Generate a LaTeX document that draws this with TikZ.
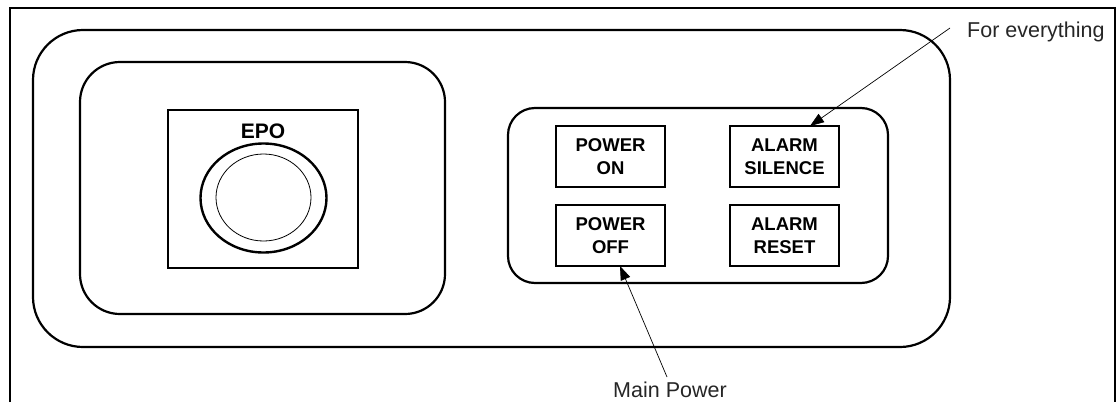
\documentclass[tikz,border=0pt]{standalone}
\usepackage{fontspec}
\setmainfont{Liberation Sans}
\usetikzlibrary{arrows.meta}
\tikzset{
  panel/.style={draw=black, line width=2.2pt},
  btn/.style={draw=black, line width=2pt, minimum width=109pt, minimum height=61pt,
    inner sep=0pt, align=center, font=\bfseries\fontsize{18.5}{23}\selectfont},
  lbl/.style={anchor=base west, inner sep=0pt, font=\fontsize{21.5}{24}\selectfont, text=black!85},
  arr/.style={draw=black, line width=0.7pt, -{Triangle[length=14pt,width=10pt]}}
}
\begin{document}
\begin{tikzpicture}[x=1pt,y=-1pt]
\useasboundingbox (0,0) rectangle (1117,402);
% frame (open at bottom)
\draw[line width=2pt] (10,402) -- (10,8) -- (1115,8) -- (1115,402);
% outer rounded panel
\draw[panel, rounded corners=50pt] (33,30) rectangle (950,347);
% left inner panel
\draw[panel, rounded corners=40pt] (80,62) rectangle (445,314);
% EPO box
\node[draw=black, line width=2pt, minimum width=190pt, minimum height=158pt, inner sep=0pt] (epobox) at (262.5,188.5) {};
\node[anchor=base, inner sep=0pt, font=\bfseries\fontsize{21}{24}\selectfont] (epo) at (263,138.5) {EPO};
\draw[line width=2.4pt] (263.5,198) ellipse [x radius=63pt, y radius=54.5pt];
\draw[line width=0.8pt] (263.5,197.5) ellipse [x radius=47.5pt, y radius=43.5pt];
% right panel
\draw[panel, rounded corners=27pt] (508,108) rectangle (888,283);
% buttons
\node[btn] (pon) at (610.5,156.5) {POWER\\ON};
\node[btn] (as) at (784.5,156.5) {ALARM\\SILENCE};
\node[btn] (poff) at (610.5,235.5) {POWER\\OFF};
\node[btn] (ar) at (784.5,235.5) {ALARM\\RESET};
% labels
\node[lbl] (fe) at (967,37) {For everything};
\node[lbl] (mp) at (613,397) {Main Power};
\coordinate (feS) at (950,28);
\coordinate (mpS) at (667,377);
\draw[arr] (feS) -- ([xshift=25.5pt,yshift=-1pt]as.north);
\draw[arr] (mpS) -- ([xshift=9.5pt,yshift=1pt]poff.south);
\end{tikzpicture}
\end{document}
